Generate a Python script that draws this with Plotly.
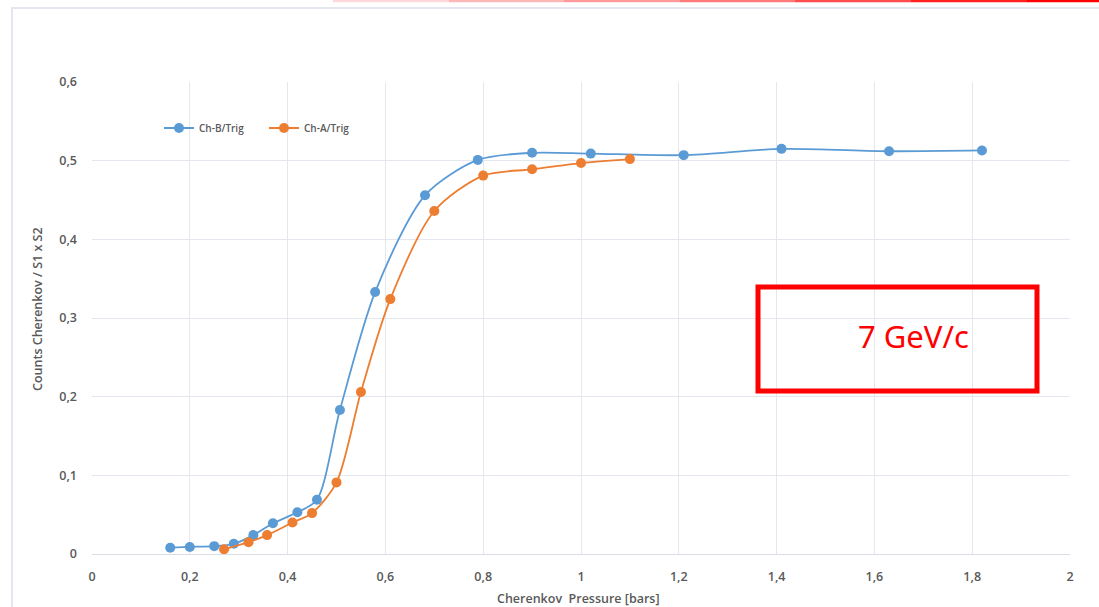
import plotly.graph_objects as go

# Data
x_b = [0.16, 0.20, 0.25, 0.29, 0.33, 0.37, 0.42, 0.46, 0.507, 0.579, 0.681, 0.789, 0.90, 1.02, 1.21, 1.41, 1.63, 1.82]
y_b = [0.008, 0.009, 0.010, 0.013, 0.024, 0.039, 0.053, 0.069, 0.183, 0.333, 0.456, 0.501, 0.510, 0.509, 0.507, 0.515, 0.512, 0.513]
x_a = [0.27, 0.32, 0.358, 0.41, 0.45, 0.50, 0.55, 0.61, 0.70, 0.80, 0.90, 1.00, 1.10]
y_a = [0.006, 0.015, 0.024, 0.040, 0.052, 0.091, 0.206, 0.324, 0.436, 0.481, 0.489, 0.497, 0.502]
name_b = "Ch-B/Trig"
name_a = "Ch-A/Trig"
x_title = "Cherenkov  Pressure [bars]"
y_title = "Counts Cherenkov / S1 x S2"
box_text = "7 GeV/c"

W, H = 1099, 607
L, R, T, B = 92, 1070, 82, 554

def px(x):
    return (x - L) / (R - L)

def py(y):
    return (B - y) / (B - T)

blue = "#5b9bd5"
orange = "#ed7d31"
gray = "#595959"
FAM = "Open Sans"

fig = go.Figure()
fig.add_trace(go.Scatter(x=x_b, y=y_b, mode="lines+markers", name=name_b,
                         line=dict(color=blue, width=1.8, shape="spline", smoothing=0.8),
                         marker=dict(color=blue, size=10)))
fig.add_trace(go.Scatter(x=x_a, y=y_a, mode="lines+markers", name=name_a,
                         line=dict(color=orange, width=1.8, shape="spline", smoothing=0.8),
                         marker=dict(color=orange, size=10)))

font_tick = dict(family=FAM, size=12.5, color=gray, weight=600)

fig.update_layout(
    width=W, height=H,
    margin=dict(l=L, r=W - R, t=T, b=H - B),
    paper_bgcolor="white", plot_bgcolor="white",
    separators=", ",
    showlegend=True,
    legend=dict(orientation="h", x=px(159), y=py(128), xanchor="left", yanchor="middle",
                bgcolor="rgba(0,0,0,0)", font=dict(family=FAM, size=10, color=gray, weight=600),
                entrywidth=60, entrywidthmode="pixels", tracegroupgap=0, itemwidth=30),
    xaxis=dict(range=[0, 2], dtick=0.2, tick0=0, showgrid=True, gridcolor="#e4e7ee", gridwidth=1,
               zeroline=False, showline=True, linecolor="#d9dde5", linewidth=1,
               ticks="", tickfont=font_tick, ticklabelstandoff=11),
    yaxis=dict(range=[0, 0.6], dtick=0.1, tick0=0, showgrid=True, gridcolor="#e4e7ee", gridwidth=1,
               zeroline=False, showline=False, ticks="", tickfont=font_tick, ticklabelstandoff=14),
    font=dict(family=FAM, color=gray),
)

shapes = []
# outer frame
shapes.append(dict(type="rect", xref="paper", yref="paper", x0=px(12), x1=px(1120), y0=py(8), y1=py(630),
                   line=dict(color="#e3e6ec", width=2), fillcolor="rgba(0,0,0,0)", layer="below"))
# top red strip (cropped slide element)
segs = [(333, 449, "#ffd9d9"), (449, 564, "#ffb8b8"), (564, 680, "#ff9a9a"), (680, 795, "#ff7a7a"),
        (795, 911, "#ff4d4d"), (911, 1027, "#ff2020"), (1027, 1099, "#ff0000")]
for x0, x1, c in segs:
    shapes.append(dict(type="line", xref="paper", yref="paper", x0=px(x0), x1=px(x1), y0=py(1), y1=py(1),
                       line=dict(color=c, width=2.5)))
# red box
shapes.append(dict(type="rect", xref="paper", yref="paper", x0=px(758), x1=px(1037), y0=py(287), y1=py(391),
                   line=dict(color="#ff0000", width=5), fillcolor="rgba(0,0,0,0)"))
fig.update_layout(shapes=shapes)

fig.add_annotation(xref="paper", yref="paper", x=px(913), y=py(336), text=box_text, showarrow=False,
                   font=dict(family="Noto Sans", size=31, color="#ff0000"), xanchor="center", yanchor="middle")
fig.add_annotation(xref="paper", yref="paper", x=px(578), y=py(598), text=x_title, showarrow=False,
                   font=dict(family=FAM, size=12.5, color=gray, weight=600), xanchor="center", yanchor="middle")
fig.add_annotation(xref="paper", yref="paper", x=px(37), y=py(309), text=y_title, showarrow=False, textangle=-90,
                   font=dict(family=FAM, size=12.5, color=gray, weight=600), xanchor="center", yanchor="middle")

fig.write_html("out.html", config={"displayModeBar": False},
               post_script="document.body.style.margin='0';")
